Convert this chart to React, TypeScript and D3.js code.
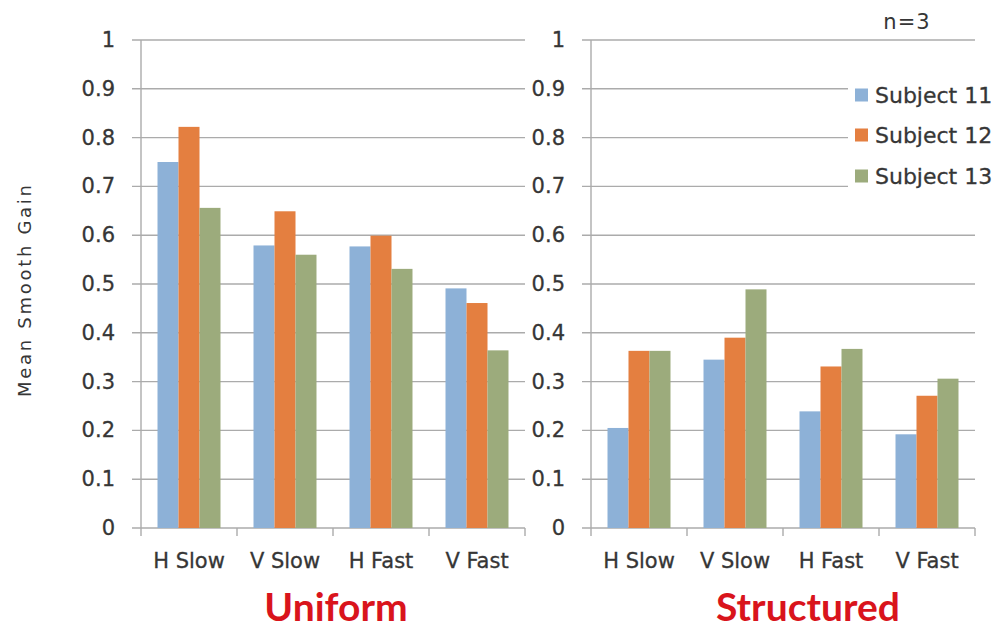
import React from "react";
import * as d3 from "d3";

const categories = ["H Slow", "V Slow", "H Fast", "V Fast"];
const series = ["Subject 11", "Subject 12", "Subject 13"];
const colors = ["#8DB1D7", "#E47F40", "#9CAB7C"];
const uniform = [
  [0.75, 0.579, 0.577, 0.491],
  [0.822, 0.649, 0.599, 0.461],
  [0.656, 0.56, 0.531, 0.364],
];
const structured = [
  [0.205, 0.345, 0.239, 0.192],
  [0.363, 0.39, 0.331, 0.271],
  [0.363, 0.489, 0.367, 0.306],
];
const yTicks = [0, 0.1, 0.2, 0.3, 0.4, 0.5, 0.6, 0.7, 0.8, 0.9, 1];
const panelTitles = ["Uniform", "Structured"];

const W = 1001;
const H = 629;
const TOP = 40;
const BOTTOM = 528;
const PW = 384;
const GRID = "#ababab";
const TEXT = "#363636";
const FONT = "'DejaVu Sans', sans-serif";

const y = d3.scaleLinear().domain([0, 1]).range([BOTTOM, TOP]);

function Panel({
  x0,
  data,
  title,
  titleX,
  gridStopX,
}: {
  x0: number;
  data: number[][];
  title: string;
  titleX: number;
  gridStopX?: (number | null)[];
}) {
  const xb = d3.scaleBand<string>().domain(categories).range([x0, x0 + PW]).padding(0);
  const xs = d3
    .scaleBand<string>()
    .domain(series)
    .range([0, xb.bandwidth()])
    .paddingInner(0)
    .paddingOuter(0.786);
  return (
    <g>
      {yTicks.map((t, i) => {
        const stop = gridStopX && gridStopX[i] != null ? (gridStopX[i] as number) : x0 + PW;
        return (
          <g key={"g" + i}>
            <line x1={x0 - 9} x2={stop} y1={y(t)} y2={y(t)} stroke={GRID} strokeWidth={1.4} />
            <text
              x={x0 - 26}
              y={y(t)}
              textAnchor="end"
              dominantBaseline="central"
              fontFamily={FONT}
              fontSize={21}
              fill={TEXT}
              stroke={TEXT}
              strokeWidth={0.3}
            >
              {d3.format("")(+t.toFixed(1))}
            </text>
          </g>
        );
      })}
      <line x1={x0} x2={x0} y1={TOP} y2={BOTTOM + 8} stroke={GRID} strokeWidth={1.4} />
      {categories.map((c, ci) => (
        <line
          key={"t" + ci}
          x1={(xb(c) as number) + xb.bandwidth()}
          x2={(xb(c) as number) + xb.bandwidth()}
          y1={BOTTOM}
          y2={BOTTOM + 8}
          stroke={GRID}
          strokeWidth={1.4}
        />
      ))}
      {series.map((s, si) =>
        categories.map((c, ci) => (
          <rect
            key={s + c}
            x={(xb(c) as number) + (xs(s) as number)}
            y={y(data[si][ci])}
            width={xs.bandwidth()}
            height={BOTTOM - y(data[si][ci])}
            fill={colors[si]}
          />
        ))
      )}
      {categories.map((c, ci) => (
        <text
          key={"c" + ci}
          x={(xb(c) as number) + xb.bandwidth() / 2}
          y={568}
          textAnchor="middle"
          fontFamily={FONT}
          fontSize={21}
          fill={TEXT}
          stroke={TEXT}
          strokeWidth={0.3}
        >
          {c}
        </text>
      ))}
      <text
        x={titleX}
        y={621}
        textAnchor="middle"
        fontFamily="Lato, sans-serif"
        fontWeight="bold"
        fontSize={39}
        fill="#D9141C"
      >
        {title}
      </text>
    </g>
  );
}

export default function App() {
  const legendY = [95, 135, 176];
  const rightStops = yTicks.map((t) => (t >= 0.65 && t <= 0.95 ? 848 : null));
  return (
    <svg width={W} height={H} style={{ position: "absolute", left: 0, top: 0, background: "#fff" }}>
      <rect x={0} y={0} width={W} height={H} fill="#fff" />
      <Panel x0={141} data={uniform} title={panelTitles[0]} titleX={336} />
      <Panel x0={591} data={structured} title={panelTitles[1]} titleX={808} gridStopX={rightStops} />
      <text
        transform="translate(24,291) rotate(-90)"
        textAnchor="middle"
        dominantBaseline="central"
        fontFamily={FONT}
        fontSize={18}
        fill={TEXT}
        textLength={212}
        lengthAdjust="spacing"
      >
        Mean Smooth Gain
      </text>
      <text
        x={907}
        y={29}
        textAnchor="middle"
        fontFamily={FONT}
        fontSize={21}
        fill={TEXT}
        letterSpacing={1}
      >
        n=3
      </text>
      {series.map((s, i) => (
        <g key={s}>
          <rect x={855} y={legendY[i] - 6.5} width={13} height={13} fill={colors[i]} />
          <text
            x={875}
            y={legendY[i]}
            dominantBaseline="central"
            fontFamily={FONT}
            fontSize={22}
            fill={TEXT}
            stroke={TEXT}
            strokeWidth={0.3}
          >
            {s}
          </text>
        </g>
      ))}
    </svg>
  );
}
